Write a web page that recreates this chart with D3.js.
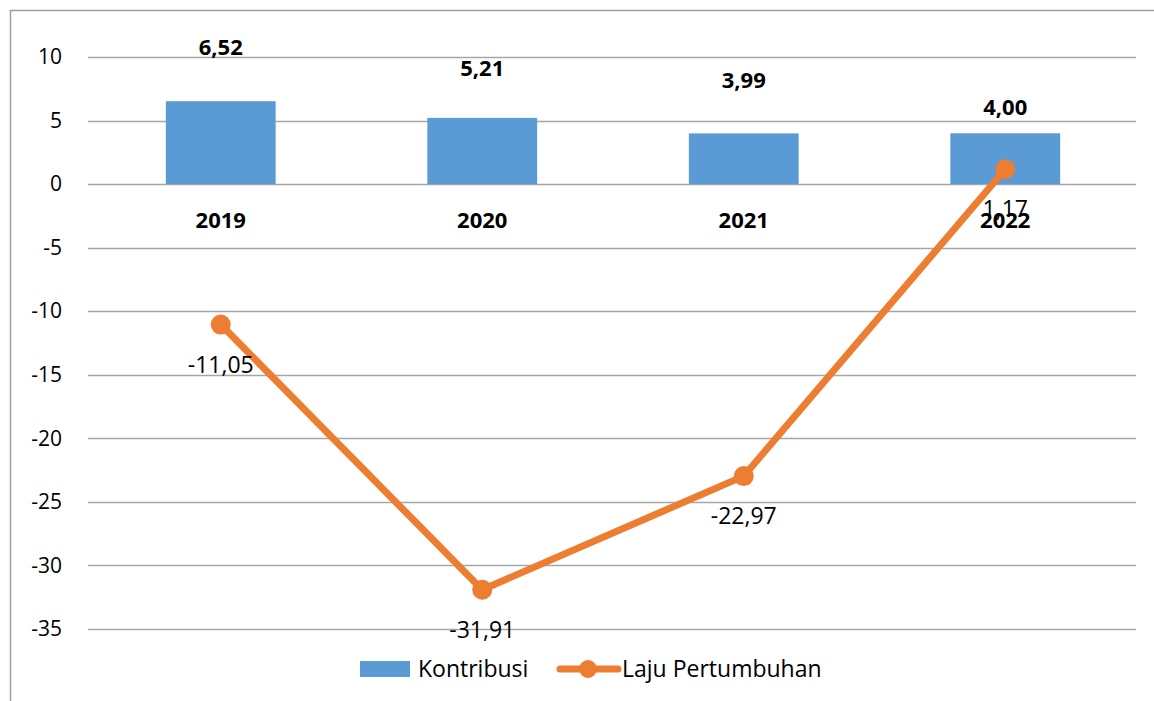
<!DOCTYPE html>
<html><head><meta charset="utf-8">
<script src="https://cdn.jsdelivr.net/npm/d3@7"></script>
<style>body{margin:0;background:#fff}svg{display:block}text{font-family:"Open Sans",sans-serif}</style>
</head><body>
<svg id="c" width="1154" height="701"></svg>
<script>
const categories = ["2019","2020","2021","2022"];
const kontribusi = [6.52, 5.21, 3.99, 4.00];
const laju = [-11.05, -31.91, -22.97, 1.17];
const yTicks = [10,5,0,-5,-10,-15,-20,-25,-30,-35];
const barLabelDy = [-54, -50, -53, -26];
const seriesNames = ["Kontribusi","Laju Pertumbuhan"];

const blue = "#5B9BD5", orange = "#ED7D31";
const svg = d3.select("#c");
const fmt = v => v.toFixed(2).replace(".", ",");

// frame
svg.append("path").attr("d","M10.5,701 L10.5,10.5 L1154,10.5").attr("fill","none").attr("stroke","#a0a0a0").attr("stroke-width",1.5);

const x = d3.scaleBand().domain(categories).range([90,1136]).paddingInner(0.58).paddingOuter(0.29);
const y = d3.scaleLinear().domain([-35,10]).range([629,57]);

// gridlines
svg.append("g").selectAll("line").data(yTicks).join("line")
  .attr("x1",88).attr("x2",1136).attr("y1",d=>Math.round(y(d))+0.5).attr("y2",d=>Math.round(y(d))+0.5)
  .attr("stroke","#a6a6a6").attr("stroke-width",1.5);

// y axis labels
const yAxis = d3.axisLeft(y).tickValues(yTicks).tickSize(0).tickPadding(0).tickFormat(d3.format("d"));
const ya = svg.append("g").attr("transform","translate(62,0)").call(yAxis);
ya.select(".domain").remove();
ya.selectAll("text").attr("font-size",21).attr("fill","#000").attr("font-family","Open Sans").text(d=>String(d).replace("−","-"));

// bars
svg.append("g").selectAll("rect").data(kontribusi).join("rect")
  .attr("x",(d,i)=>x(categories[i])).attr("width",x.bandwidth())
  .attr("y",d=>y(d)).attr("height",d=>y(0)-y(d)).attr("fill",blue);

// category labels
svg.append("g").selectAll("text").data(categories).join("text")
  .attr("x",d=>x(d)+x.bandwidth()/2).attr("y",y(0)+36).attr("dy","0.35em").attr("text-anchor","middle")
  .attr("font-size",22).attr("font-weight","bold").text(d=>d);

// bar labels
svg.append("g").selectAll("text").data(kontribusi).join("text")
  .attr("x",(d,i)=>x(categories[i])+x.bandwidth()/2).attr("y",(d,i)=>y(d)+barLabelDy[i]).attr("dy","0.35em")
  .attr("text-anchor","middle").attr("font-size",22).attr("font-weight","bold").text(d=>fmt(d));

// line
const cx = (d,i)=>x(categories[i])+x.bandwidth()/2;
svg.append("path").datum(laju).attr("fill","none").attr("stroke",orange).attr("stroke-width",7)
  .attr("stroke-linejoin","round")
  .attr("d", d3.line().x(cx).y(d=>y(d)));
svg.append("g").selectAll("circle").data(laju).join("circle")
  .attr("cx",cx).attr("cy",d=>y(d)).attr("r",10).attr("fill",orange);
svg.append("g").selectAll("text").data(laju).join("text")
  .attr("x",cx).attr("y",d=>y(d)+40).attr("dy","0.35em").attr("text-anchor","middle")
  .attr("font-size",23).text(d=>fmt(d));

// legend
const lg = svg.append("g");
lg.append("rect").attr("x",360).attr("y",661).attr("width",50).attr("height",16).attr("fill",blue);
lg.append("text").attr("x",418).attr("y",669).attr("dy","0.35em").attr("font-size",23).text(seriesNames[0]);
lg.append("line").attr("x1",560).attr("x2",618).attr("y1",669).attr("y2",669).attr("stroke",orange).attr("stroke-width",7).attr("stroke-linecap","round");
lg.append("circle").attr("cx",588).attr("cy",669).attr("r",9).attr("fill",orange);
lg.append("text").attr("x",622).attr("y",669).attr("dy","0.35em").attr("font-size",23).text(seriesNames[1]);
</script>
</body></html>
